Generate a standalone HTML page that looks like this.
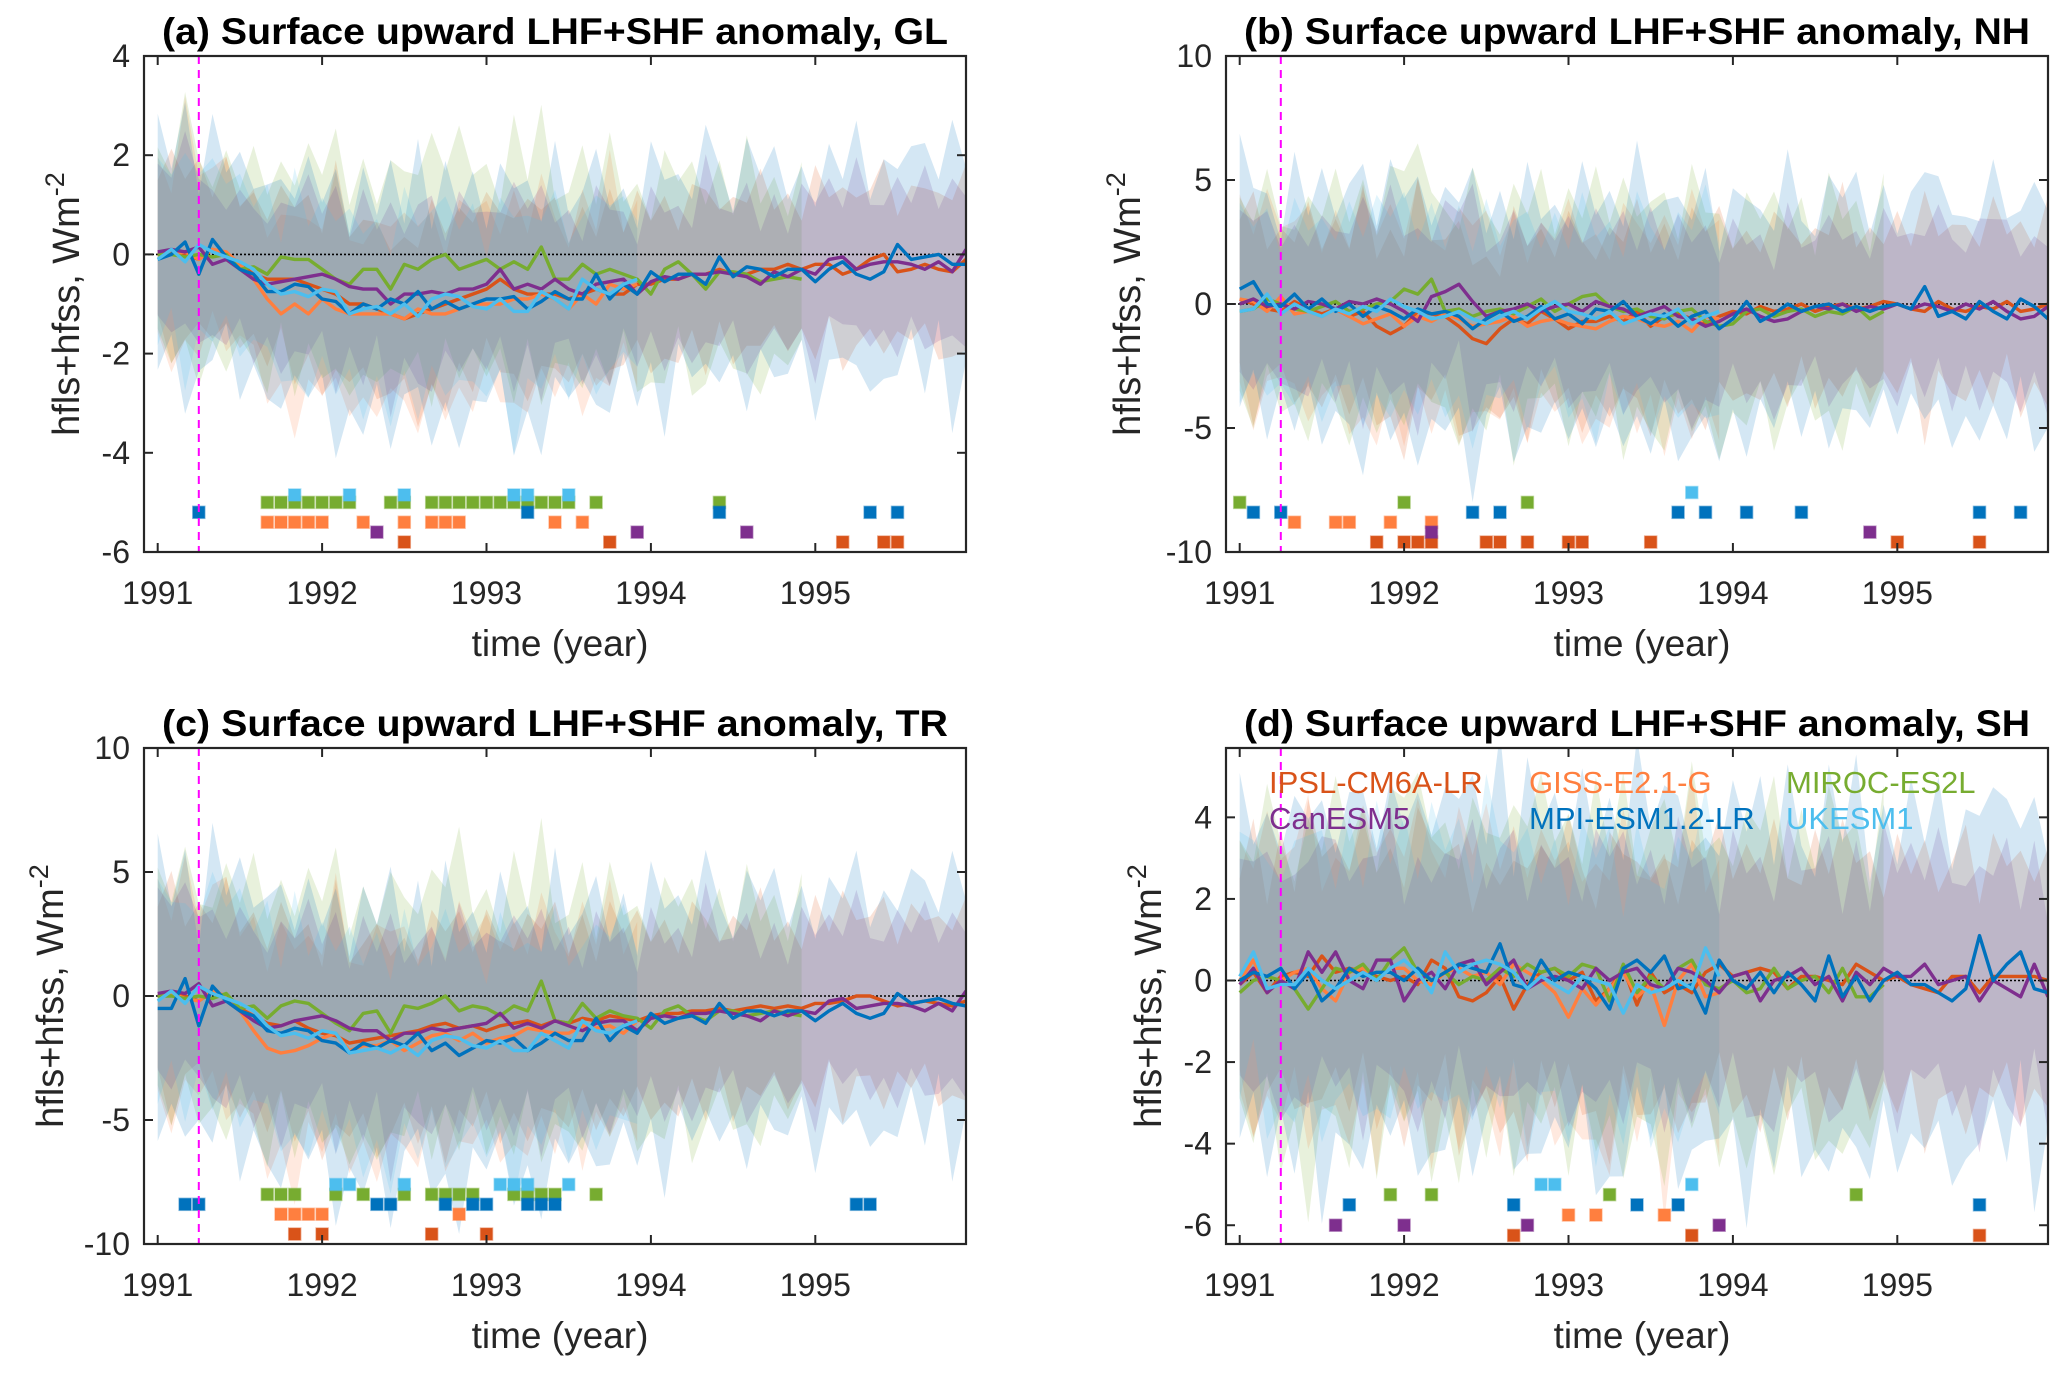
<!DOCTYPE html>
<html><head><meta charset="utf-8"><style>
html,body{margin:0;padding:0;background:#fff;}
svg{display:block;font-family:"Liberation Sans",Arial,sans-serif;}
</style></head><body>
<svg id="fig" width="2067" height="1374" viewBox="0 0 2067 1374" xmlns="http://www.w3.org/2000/svg"></svg>
<script>
// ---------- data ----------
const models = ["IPSL-CM6A-LR","GISS-E2.1-G","MIROC-ES2L","CanESM5","MPI-ESM1.2-LR","UKESM1"];
const colors = ["#D95319","#FF7F3F","#77AC30","#7E2F8E","#0072BD","#4DBEEE"];
const bandScale = [1.0,1.1,1.25,0.95,1.35,1.05];
const bandJitter = [1.0,1.3,0.8,1.2,0.7,1.4,0.9,1.1,0.75,1.35,0.85,1.2,0.7,1.5,0.9,1.0,1.25,0.8,1.1,0.7,1.3,0.95,1.15,0.8,1.4,0.9,0.75,1.2,1.0,1.3,0.8,1.1,0.7,1.25,0.95,1.35,0.85,1.05,0.75,1.3,1.0,0.8,1.2,0.9,1.45,0.8,1.1,0.7,1.25,0.9,1.35,0.85,1.0,1.2,0.75,1.3,0.9,1.1,0.8,1.2];
const years = ["1991","1992","1993","1994","1995"];

// panel (a) GL
const glIPSL=[0,0.05,0,-0.1,0.1,0,-0.2,-0.4,-0.5,-0.5,-0.5,-0.6,-0.7,-0.8,-1.0,-1.0,-1.1,-1.2,-1.3,-1.2,-1.1,-1.0,-0.9,-0.8,-0.7,-0.5,-0.7,-0.8,-0.8,-0.8,-0.9,-0.8,-0.7,-0.8,-0.8,-0.6,-0.6,-0.5,-0.5,-0.4,-0.4,-0.3,-0.4,-0.4,-0.3,-0.3,-0.2,-0.3,-0.2,-0.2,-0.4,-0.3,-0.1,0,-0.35,-0.3,-0.2,-0.3,-0.35,-0.1];
const glGISS=[0,0,0.05,-0.1,0.1,0.05,-0.2,-0.5,-0.9,-1.2,-1.0,-1.2,-0.9,-1.1,-1.2,-1.2,-1.2,-1.2,-1.3,-1.1,-1.2,-1.2,-1.1,-1.0,-1.0,-1.0,-0.9,-0.9,-0.8,-0.9,-1.1,-0.8,-1.0,-0.6,-0.7,-0.6];
const glMIROC=[0,0,-0.05,0,-0.05,0,-0.3,-0.25,-0.4,-0.05,-0.1,-0.1,-0.3,-0.5,-0.6,-0.3,-0.3,-0.7,-0.2,-0.3,-0.1,0,-0.3,-0.2,-0.1,-0.3,-0.15,-0.3,0.15,-0.5,-0.5,-0.2,-0.4,-0.3,-0.4,-0.5,-0.8,-0.3,-0.15,-0.4,-0.7,-0.35,-0.35,-0.4,-0.55,-0.5,-0.45,-0.5];
const glCan=[0.05,0.1,0.05,0.15,-0.2,-0.1,-0.3,-0.5,-0.6,-0.55,-0.5,-0.45,-0.4,-0.5,-0.65,-0.7,-0.7,-1.0,-0.8,-0.8,-0.75,-0.8,-0.7,-0.7,-0.6,-0.3,-0.7,-0.6,-0.7,-0.5,-0.7,-0.8,-0.6,-0.55,-0.5,-0.8,-0.55,-0.45,-0.5,-0.4,-0.4,-0.35,-0.4,-0.45,-0.6,-0.35,-0.45,-0.3,-0.4,-0.1,-0.05,-0.3,-0.2,-0.15,-0.15,-0.2,-0.3,-0.15,-0.35,0.1];
const glMPI=[-0.1,0,0.25,-0.4,0.3,-0.05,-0.3,-0.4,-0.75,-0.75,-0.6,-0.65,-0.9,-0.95,-1.2,-1.0,-1.1,-0.9,-1.0,-0.75,-1.1,-0.95,-1.1,-1.0,-0.9,-0.9,-0.85,-1.1,-0.95,-0.75,-0.9,-0.9,-0.4,-0.9,-0.6,-0.8,-0.35,-0.55,-0.4,-0.4,-0.6,-0.05,-0.45,-0.25,-0.3,-0.45,-0.3,-0.3,-0.55,-0.3,-0.15,-0.4,-0.5,-0.35,0.2,-0.1,-0.05,0,-0.2,-0.2];
const glUK=[-0.1,0.1,-0.15,0.2,0.05,-0.05,-0.15,-0.3,-0.6,-0.8,-0.75,-0.85,-0.7,-0.75,-1.2,-1.1,-1.05,-1.2,-1.0,-1.25,-0.9,-0.8,-0.85,-1.05,-1.1,-0.9,-1.15,-1.15,-0.75,-0.9,-1.1,-0.5,-0.7,-0.8,-0.6,-0.5];
const glSpread=[1.5,1.6,1.9,1.7,1.5,1.4,1.3,1.5,1.6,1.4,1.7,1.5,1.6,1.8,1.5,1.7,1.4,1.6,1.5,1.9,1.7,1.5,1.6,1.8,1.4,1.5,1.9,1.6,1.7,1.5,1.4,1.6,1.5,1.7,1.3,1.4,1.5,1.6,1.3,1.4,1.7,1.5,1.3,1.6,1.4,1.5,1.3,1.4,1.6,1.5,1.3,1.7,1.4,1.6,1.5,1.3,1.7,1.4,1.8,1.6];

// panel (b) NH
const nhIPSL=[0.2,0,-0.2,-0.3,0.1,-0.2,-0.4,-0.2,-0.5,-0.3,-0.9,-1.2,-0.9,-0.3,-0.4,-0.5,-0.9,-1.4,-1.6,-1.0,-0.6,-0.8,-0.3,-0.6,-1.0,-0.7,-0.7,-0.5,-0.7,-0.3,-0.9,-0.5,-0.4,-0.6,-0.8,-0.5,-0.3,-0.4,-0.1,-0.3,-0.2,0,-0.3,-0.1,0,-0.2,-0.1,0.1,0,-0.2,-0.3,0.1,-0.2,-0.3,-0.1,-0.2,0.1,-0.3,-0.2,0];
const nhGISS=[0.2,0.1,-0.3,0.3,-0.4,-0.3,-0.5,-0.2,-0.5,-0.8,-0.6,-0.4,-0.9,-0.5,-0.7,-0.4,-0.6,-0.9,-0.8,-0.7,-0.5,-0.9,-0.7,-0.6,-0.8,-0.9,-1.0,-0.7,-0.5,-0.6,-0.8,-0.9,-0.7,-1.1,-0.5,-0.6];
const nhMIROC=[-0.3,-0.2,0.2,0,-0.2,-0.3,-0.1,0.1,-0.3,-0.2,0,0.1,0.6,0.4,1.0,-0.3,-0.2,-0.5,-0.3,-0.2,-0.4,-0.1,0.2,-0.3,0,0.3,0.4,-0.1,-0.3,-0.2,-0.5,-0.6,-0.3,-0.2,-0.7,-0.9,-0.8,-0.3,-0.2,-0.5,-0.3,-0.2,-0.5,-0.3,-0.4,-0.1,-0.6,-0.3];
const nhCan=[0,0.2,-0.1,0,-0.2,0.1,0,-0.2,0.1,0,0.2,0,-0.3,-0.7,0.3,0.5,0.8,0.1,-0.5,-0.3,-0.2,0,-0.3,-0.1,0,-0.3,0.1,-0.1,-0.2,-0.5,-0.3,-0.1,-0.5,-0.6,-0.9,-0.7,-0.4,-0.2,-0.5,-0.7,-0.6,-0.3,-0.1,-0.2,0,-0.3,-0.1,-0.2,0,-0.2,0,-0.1,-0.3,0,-0.2,0.1,-0.3,-0.6,-0.5,-0.1];
const nhMPI=[0.6,0.9,0,-0.1,0.4,-0.2,0.2,-0.3,0,-0.5,-0.1,-0.3,-0.6,-0.2,-0.4,-0.3,-0.5,-1.0,-0.6,-0.3,-0.7,-0.5,-0.1,-0.6,-0.4,-0.8,-0.2,-0.3,0.1,-0.5,-0.8,-0.4,-0.9,-0.5,-0.3,-1.0,-0.6,0.1,-0.7,-0.4,0,-0.3,-0.1,0,-0.3,-0.1,-0.3,-0.1,0,-0.2,0.7,-0.5,-0.3,-0.6,0.1,-0.3,-0.6,0.2,-0.1,-0.6];
const nhUK=[-0.3,-0.2,0.4,-0.4,0,-0.3,-0.5,-0.2,-0.4,-0.1,-0.3,0.2,-0.1,-0.3,-0.6,-0.5,-0.3,-0.6,-0.8,-0.5,-0.3,-0.6,-0.2,0.1,-0.3,-0.4,-0.6,-0.3,-0.8,-0.6,-0.4,-0.5,-0.2,-0.8,-0.5,-0.3];
const nhSpread=[3.2,3.5,3.0,2.8,3.4,3.1,2.9,3.3,3.6,3.8,3.2,3.5,4.0,3.6,3.3,3.1,3.4,3.7,3.2,3.0,3.5,3.3,2.9,3.1,3.4,3.6,3.3,3.0,3.2,3.5,3.7,3.4,3.1,3.6,3.9,3.3,3.0,3.2,2.9,3.1,3.3,3.0,2.8,3.2,3.4,3.1,2.9,3.3,3.0,2.8,3.6,3.1,3.4,2.9,3.2,3.5,3.0,3.3,3.1,3.6];

// panel (c) TR
const trIPSL=[0,0.1,0,-0.2,0.2,-0.1,-0.5,-0.8,-1.1,-1.2,-1.0,-1.3,-1.5,-1.6,-1.9,-1.8,-1.7,-1.6,-1.5,-1.4,-1.2,-1.1,-1.3,-1.2,-1.4,-1.2,-1.1,-1.0,-1.2,-1.0,-1.1,-0.9,-1.0,-0.8,-0.9,-1.0,-0.8,-0.7,-0.7,-0.6,-0.6,-0.5,-0.6,-0.5,-0.4,-0.5,-0.4,-0.5,-0.3,-0.3,-0.2,0,0,-0.2,-0.4,-0.3,-0.2,-0.3,-0.4,-0.2];
const trGISS=[0,0.1,-0.1,-0.2,0.2,0,-0.6,-1.4,-2.1,-2.3,-2.2,-2.0,-1.7,-1.5,-2.2,-2.0,-2.0,-1.8,-2.2,-1.9,-1.6,-1.5,-1.8,-1.5,-1.9,-1.7,-1.6,-1.3,-1.4,-1.5,-1.5,-1.2,-1.3,-1.2,-1.5,-1.0];
const trMIROC=[0,0,-0.1,0,-0.1,0.1,-0.5,-0.4,-0.9,-0.4,-0.2,-0.3,-0.7,-1.1,-1.4,-0.7,-0.6,-1.5,-0.4,-0.5,-0.3,0,-0.6,-0.4,-0.5,-0.8,-0.4,-0.6,0.6,-1.0,-1.1,-0.3,-0.9,-0.6,-0.8,-0.9,-1.3,-0.6,-0.4,-0.8,-1.0,-0.6,-0.6,-0.8,-0.7,-0.6,-0.7,-0.8];
const trCan=[0.1,0.2,0.1,0.5,-0.4,-0.2,-0.6,-1.0,-1.3,-1.2,-1.0,-0.9,-0.8,-1.0,-1.3,-1.4,-1.4,-1.8,-1.5,-1.5,-1.3,-1.4,-1.3,-1.2,-1.1,-0.7,-1.3,-1.1,-1.3,-1.0,-1.2,-1.4,-1.1,-1.0,-1.0,-1.4,-0.9,-0.8,-0.9,-0.7,-0.7,-0.6,-0.7,-0.8,-1.0,-0.6,-0.8,-0.6,-0.7,-0.2,-0.1,-0.5,-0.4,-0.3,-0.3,-0.4,-0.6,-0.3,-0.6,0.2];
const trMPI=[-0.5,-0.5,0.7,-1.2,0.4,-0.2,-0.6,-0.8,-1.4,-1.5,-1.3,-1.4,-1.8,-1.9,-2.3,-1.9,-2.1,-1.8,-2.0,-1.5,-2.2,-1.9,-2.4,-2.1,-1.8,-1.9,-1.7,-2.2,-1.9,-1.5,-1.8,-1.8,-0.9,-1.8,-1.2,-1.5,-0.7,-1.1,-0.9,-0.8,-1.1,-0.3,-0.9,-0.6,-0.6,-0.8,-0.6,-0.6,-1.0,-0.6,-0.3,-0.7,-0.9,-0.7,0.1,-0.3,-0.2,-0.1,-0.3,-0.4];
const trUK=[-0.2,0.2,-0.3,0.4,0.1,-0.1,-0.3,-0.6,-1.2,-1.6,-1.5,-1.7,-1.4,-1.5,-2.3,-2.2,-2.1,-2.3,-2.0,-2.4,-1.8,-1.6,-1.7,-2.0,-2.1,-1.8,-2.2,-2.2,-1.5,-1.8,-2.1,-1.0,-1.4,-1.5,-1.2,-1.0];
const trSpread=[3.6,3.8,3.5,3.3,3.9,3.5,3.4,3.8,4.0,3.7,3.9,3.5,3.8,4.2,3.6,3.9,3.7,4.0,3.5,3.8,3.6,3.9,4.1,3.7,3.5,3.8,4.0,3.6,3.9,3.7,3.5,3.8,3.4,3.7,3.6,3.3,3.5,3.6,3.2,3.4,3.7,3.3,3.2,3.5,3.3,3.4,3.1,3.4,3.5,3.2,3.3,3.6,3.2,3.5,3.3,3.1,3.6,3.2,3.8,3.5];

// panel (d) SH
const shIPSL=[-0.1,0.2,-0.3,0.1,0.2,0.1,0.6,0.2,0.3,0.2,0.1,0,0.1,-0.1,0.5,0.3,-0.4,-0.5,-0.3,0.1,-0.7,-0.1,0.2,0.3,0,0.2,-0.5,-0.2,0.3,-0.6,0.2,-0.3,-0.1,-0.3,0.2,0.4,0.1,0.2,0.3,0.2,-0.2,0.1,0.1,0,-0.1,0.4,0.2,0,0.1,-0.1,-0.2,-0.3,0.1,0.1,-0.3,0.1,0.1,0.1,0.1,0];
const shGISS=[0,0.5,-0.3,0,0.2,0.3,-0.2,-0.5,0.2,0.3,0,0.3,0.3,0,-0.1,0.2,0.3,0.1,0.2,-0.1,0.4,0.2,0,-0.3,-0.9,-0.2,-0.6,-0.2,0.2,-0.4,-0.1,-1.1,0,0.4,-0.4,-0.3];
const shMIROC=[-0.3,0,0.1,0,-0.2,-0.7,-0.2,0.3,0.2,0.4,0,0.5,0.8,0.2,0,0.2,-0.1,0.1,0,0.3,0.1,0.4,0.2,0.3,0.1,0.4,0.3,-0.5,0.4,-0.3,0.1,-0.2,0.3,0.5,-0.1,-0.2,0,-0.3,-0.2,0.3,-0.2,0,0.1,-0.3,0.3,-0.4,-0.4,-0.1];
const shCan=[-0.1,0.3,-0.3,0,-0.2,0.7,0.2,0.7,0,-0.2,0.5,0.5,-0.5,0,0.2,-0.2,0.4,0.5,-0.1,0.2,0.5,-0.2,0,0.1,0,-0.2,0.3,0,0.2,0.3,-0.1,-0.2,0.3,0.2,0,-0.3,0.1,0.2,-0.5,0,0.1,0.3,-0.1,0.1,-0.5,0.2,-0.1,0.3,0.1,0.1,0.4,-0.1,0,0.1,-0.5,0,-0.2,-0.4,0.4,-0.4];
const shMPI=[0,0.2,0.1,0.3,-0.2,0.2,-0.5,-0.2,0.3,0.1,0.2,0.2,0,0.3,0,0.2,0.4,0.3,0.2,0.9,-0.1,-0.2,0.5,0,0.2,0.1,-0.2,-0.7,0.3,0.5,0.2,0.6,-0.2,-0.1,-0.8,0.5,0,-0.2,0.2,-0.3,0.2,-0.1,-0.5,0.6,-0.4,0.1,-0.5,0,0.2,-0.1,-0.1,-0.3,-0.5,-0.2,1.1,0,0.4,0.7,-0.2,-0.3];
const shUK=[0.1,0.7,-0.2,-0.1,-0.1,0.3,0,-0.2,0,0.2,0,0.3,0.5,0.2,-0.3,0.7,0.2,0.4,0.5,0.4,0.2,-0.2,0.1,-0.1,-0.3,0.1,0,-0.1,-0.8,-0.1,-0.3,-0.2,0,-0.2,0.8,0.1];
const shSpread=[2.6,2.9,2.7,3.0,2.8,3.1,2.7,2.9,3.2,2.8,3.0,2.7,3.1,2.9,3.3,2.8,3.0,2.7,2.9,3.2,2.8,3.0,2.7,3.1,2.9,2.8,3.0,3.2,2.8,2.7,2.9,3.1,2.8,3.0,2.9,2.7,2.8,3.0,3.1,2.9,2.7,2.8,3.0,2.9,2.8,3.1,2.7,2.9,2.8,3.0,2.7,2.9,2.8,3.1,2.9,2.7,3.0,2.8,2.9,2.7];

// significance markers: month indices per model (order = models)
const glMarks=[[18,33,50,53,54],[8,9,10,11,12,15,18,20,21,22,29,31],[8,9,10,11,12,13,14,17,18,20,21,22,23,24,25,26,27,28,29,30,32,41],[16,35,43],[3,27,41,52,54],[10,14,18,26,27,30]];
const glRows=[-5.8,-5.4,-5.0,-5.6,-5.2,-4.85];
const nhMarks=[[10,12,13,14,18,19,21,24,25,30,48,54],[4,7,8,11,14],[0,12,21],[14,46],[1,3,17,19,32,34,37,41,54,57],[33]];
const nhRows=[-9.6,-8.8,-8.0,-9.2,-8.4,-7.6];
const trMarks=[[10,12,20,24],[9,10,11,12,22],[8,9,10,13,15,18,20,21,22,23,26,27,28,29,32],[],[2,3,16,17,21,23,24,27,28,29,51,52],[13,14,18,25,26,27,30]];
const trRows=[-9.6,-8.8,-8.0,-9.2,-8.4,-7.6];
const shMarks=[[20,33,54],[24,26,31],[11,14,27,45],[7,12,21,35],[8,20,29,32,54],[22,23,33]];
const shRows=[-6.25,-5.75,-5.25,-6.0,-5.5,-5.0];

// ---------- drawing ----------
const NS="http://www.w3.org/2000/svg";
const svg=document.getElementById("fig");
function mk(tag,attrs,parent){const e=document.createElementNS(NS,tag);for(const k in attrs)e.setAttribute(k,attrs[k]);(parent||svg).appendChild(e);return e;}

const panels=[
 {id:"a",title:"(a) Surface upward LHF+SHF anomaly, GL",L:144,T:56,ymin:-6,ymax:4,ticks:[-6,-4,-2,0,2,4],series:[glIPSL,glGISS,glMIROC,glCan,glMPI,glUK],spread:glSpread,marks:glMarks,rows:glRows,ylx:66},
 {id:"b",title:"(b) Surface upward LHF+SHF anomaly, NH",L:1226,T:56,ymin:-10,ymax:10,ticks:[-10,-5,0,5,10],series:[nhIPSL,nhGISS,nhMIROC,nhCan,nhMPI,nhUK],spread:nhSpread,marks:nhMarks,rows:nhRows,ylx:1127},
 {id:"c",title:"(c) Surface upward LHF+SHF anomaly, TR",L:144,T:748,ymin:-10,ymax:10,ticks:[-10,-5,0,5,10],series:[trIPSL,trGISS,trMIROC,trCan,trMPI,trUK],spread:trSpread,marks:trMarks,rows:trRows,ylx:50},
 {id:"d",title:"(d) Surface upward LHF+SHF anomaly, SH",L:1226,T:748,ymin:-6.46,ymax:5.70,ticks:[-6,-4,-2,0,2,4],series:[shIPSL,shGISS,shMIROC,shCan,shMPI,shUK],spread:shSpread,marks:shMarks,rows:shRows,ylx:1148,legend:true}
];
const W=822,H=496;

panels.forEach(p=>{
 const g=mk("g",{});
 
 
 const X=m=>p.L+(m+1)*W/60;
 const Y=v=>p.T+(p.ymax-v)/(p.ymax-p.ymin)*H;
 const cid="clip"+p.id;
 const cp=mk("clipPath",{id:cid},g);mk("rect",{x:p.L,y:p.T,width:W,height:H},cp);
 const plot=mk("g",{"clip-path":"url(#"+cid+")"},g);
 // bands
 p.series.forEach((s,k)=>{
  let up="",dn="";
  const hw=(m,side)=>p.spread[m]*bandScale[k]*bandJitter[(m+11*k+side*23)%60];
  s.forEach((v,m)=>{up+=(m?"L":"M")+X(m).toFixed(1)+","+Y(v+hw(m,0)).toFixed(1);});
  for(let m=s.length-1;m>=0;m--){dn+="L"+X(m).toFixed(1)+","+Y(s[m]-hw(m,1)).toFixed(1);}
  const b=mk("path",{d:up+dn+"Z",fill:colors[k],"fill-opacity":"0.17",stroke:"none"},plot);
  
  
 });
 // zero line
 const z=mk("line",{x1:p.L,x2:p.L+W,y1:Y(0),y2:Y(0),stroke:"#000","stroke-width":"1.6","stroke-dasharray":"2 2"},plot);
 
 
 // lines
 p.series.forEach((s,k)=>{
  const d=s.map((v,m)=>(m?"L":"M")+X(m).toFixed(1)+","+Y(v).toFixed(1)).join("");
  const l=mk("path",{d:d,fill:"none",stroke:colors[k],"stroke-width":"3.4","stroke-linejoin":"round"},plot);
  
  
 });
 // markers
 p.marks.forEach((arr,k)=>{arr.forEach(m=>{
  const r=mk("rect",{x:X(m)-6,y:Y(p.rows[k])-6,width:12,height:12,fill:colors[k],stroke:colors[k],"stroke-opacity":"0.45","stroke-width":"1.5"},plot);
  
  
 });});
 // eruption line
 const e=mk("line",{x1:X(3),x2:X(3),y1:p.T,y2:p.T+H,stroke:"#FF00FF","stroke-width":"2","stroke-dasharray":"8 6"},g);
 
 
 // box
 const bx=mk("rect",{x:p.L,y:p.T,width:W,height:H,fill:"none",stroke:"#262626","stroke-width":"2.2"},g);
 
 
 // x ticks
 years.forEach((yr,i)=>{
  const x=X(i*12);
  mk("line",{x1:x,x2:x,y1:p.T+H,y2:p.T+H-9,stroke:"#262626","stroke-width":"2"},g);
  mk("line",{x1:x,x2:x,y1:p.T,y2:p.T+9,stroke:"#262626","stroke-width":"2"},g);
  const t=mk("text",{x:x,y:p.T+H+52,"text-anchor":"middle","font-size":"32",fill:"#262626"},g);
  t.textContent=yr;
  
  
 });
 // y ticks
 p.ticks.forEach(v=>{
  const y=Y(v);
  mk("line",{x1:p.L,x2:p.L+9,y1:y,y2:y,stroke:"#262626","stroke-width":"2"},g);
  mk("line",{x1:p.L+W,x2:p.L+W-9,y1:y,y2:y,stroke:"#262626","stroke-width":"2"},g);
  const t=mk("text",{x:p.L-14,y:y+11,"text-anchor":"end","font-size":"32",fill:"#262626"},g);
  t.textContent=String(v);
  
  
 });
 // title
 const tt=mk("text",{x:p.L+W/2,y:p.T-12,"text-anchor":"middle","font-size":"37","font-weight":"bold",fill:"#000",textLength:"786",lengthAdjust:"spacingAndGlyphs"},g);
 tt.textContent=p.title;
 
 
 // xlabel
 const xl=mk("text",{x:p.L+W/2+5,y:p.T+H+104,"text-anchor":"middle","font-size":"37",fill:"#262626"},g);
 xl.textContent="time (year)";
 
 
 // ylabel
 const cy=p.T+H/2;
 const yl=mk("text",{x:0,y:0,"text-anchor":"middle","font-size":"38",fill:"#262626",transform:"translate("+(p.ylx+13)+","+cy+") rotate(-90)"},g);
 
 
 const t1=mk("tspan",{},yl);t1.textContent="hfls+hfss, Wm";
 const t2=mk("tspan",{dy:"-15","font-size":"27"},yl);t2.textContent="-2";
 // legend
 if(p.legend){
  const pos=[[1269,793],[1529,793],[1786,793],[1269,829],[1529,829],[1786,829]];
  models.forEach((n,k)=>{
   const t=mk("text",{x:pos[k][0],y:pos[k][1],"font-size":"31",fill:colors[k]},g);
   t.textContent=n;
   
   
  });
 }
});
</script>
</body></html>
